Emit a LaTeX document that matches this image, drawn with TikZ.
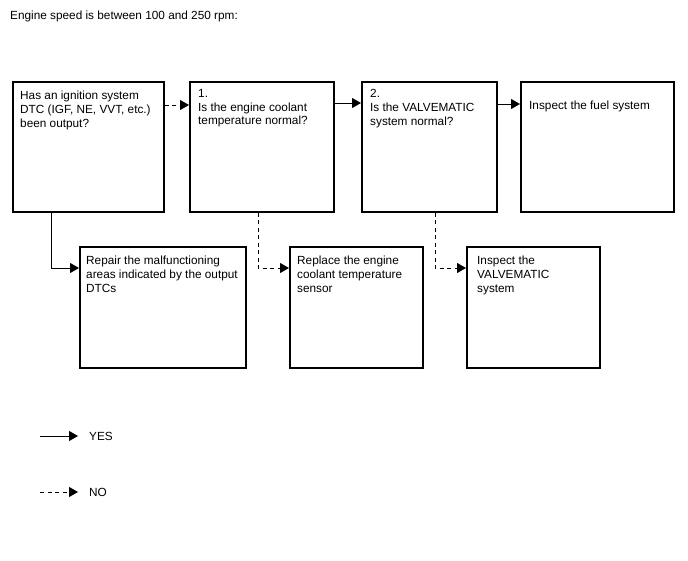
\documentclass[tikz,border=0pt]{standalone}
\usepackage{fontspec}
\setmainfont{Liberation Sans}
\usetikzlibrary{arrows.meta}

\tikzset{
  box/.style={draw, line width=1.5pt, anchor=north west, inner sep=0pt},
  txt/.style={anchor=north west, align=left, inner sep=0pt, font=\fontsize{11.8}{13.8}\selectfont},
  yes/.style={-{Triangle[length=9pt,width=10pt]}, line width=1pt},
  no/.style={yes, dash pattern=on 4pt off 3.5pt},
}

\begin{document}
\begin{tikzpicture}[x=1pt, y=-1pt]
    \useasboundingbox (0,0) rectangle (688,560);

    \node[txt] (title) at (10,11) {Engine speed is between 100 and 250 rpm:};

    % top row
    \node[box, minimum width=151, minimum height=130] (ign) at (12,81) {};
    \node[box, minimum width=144, minimum height=130] (coolant) at (189,81) {};
    \node[box, minimum width=135, minimum height=130] (valve) at (361,81) {};
    \node[box, minimum width=153, minimum height=130] (fuel) at (520,81) {};

    % bottom row
    \node[box, minimum width=166, minimum height=121] (repair) at (79,246) {};
    \node[box, minimum width=133, minimum height=121] (replace) at (289,246) {};
    \node[box, minimum width=133, minimum height=121] (vinsp) at (466,246) {};

    \node[txt] (ign-t) at (20,91) {Has an ignition system\\DTC (IGF, NE, VVT, etc.)\\been output?};
    \node[txt] (coolant-t) at (198,89) {1.\\Is the engine coolant\\temperature normal?};
    \node[txt] (valve-t) at (370,89) {2.\\Is the VALVEMATIC\\system normal?};
    \node[txt] (fuel-t) at (529,101) {Inspect the fuel system};
    \node[txt] (repair-t) at (86,256) {Repair the malfunctioning\\areas indicated by the output\\DTCs};
    \node[txt] (replace-t) at (297,256) {Replace the engine\\coolant temperature\\sensor};
    \node[txt] (vinsp-t) at (477,256) {Inspect the\\VALVEMATIC\\system};

    % connectors
    \draw[no] ([yshift=-24pt]ign.north east) -- ([yshift=-24pt]coolant.north west);
    \draw[yes] ([yshift=-22pt]coolant.north east) -- ([yshift=-22pt]valve.north west);
    \draw[yes] ([yshift=-23pt]valve.north east) -- ([yshift=-23pt]fuel.north west);
    \draw[yes] ([xshift=39pt]ign.south west) |- ([yshift=-22pt]repair.north west);
    \draw[no] ([xshift=69pt]coolant.south west) |- ([yshift=-22pt]replace.north west);
    \draw[no] ([xshift=74pt]valve.south west) |- ([yshift=-22pt]vinsp.north west);

    % legend
    \coordinate (yes-a) at (40,436);
    \coordinate (yes-b) at (78,436);
    \coordinate (no-a) at (40,492);
    \coordinate (no-b) at (78,492);
    \node[txt, anchor=west] (yes-l) at (89,436) {YES};
    \node[txt, anchor=west] (no-l) at (89,492) {NO};
    \draw[yes] (yes-a) -- (yes-b);
    \draw[no] (no-a) -- (no-b);
\end{tikzpicture}
\end{document}
